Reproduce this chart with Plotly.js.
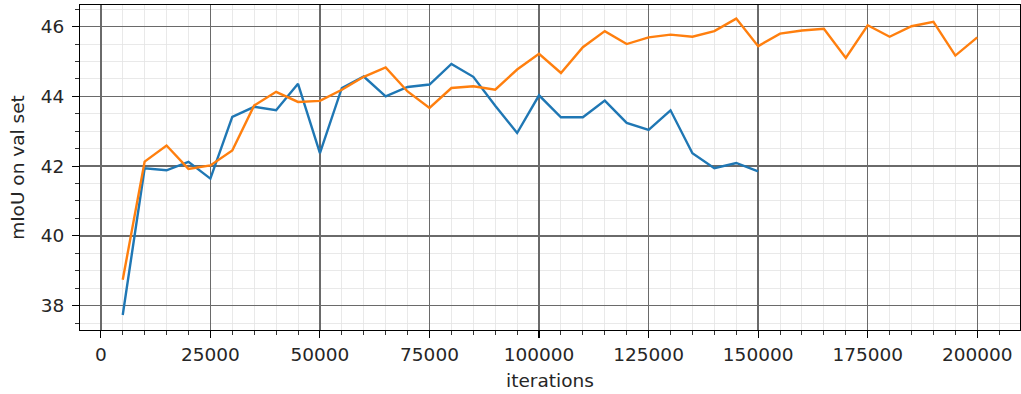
<!DOCTYPE html>
<html>
<head>
<meta charset="utf-8">
<script src="https://cdn.plot.ly/plotly-3.0.1.min.js"></script>
<style>
html,body{margin:0;padding:0;background:#fff;}
#chart{width:1021px;height:394px;}
</style>
</head>
<body>
<div id="chart"></div>
<script>
const itersBlue = [5000,10000,15000,20000,25000,30000,35000,40000,45000,50000,55000,60000,65000,70000,75000,80000,85000,90000,95000,100000,105000,110000,115000,120000,125000,130000,135000,140000,145000,150000];
const miouBlue = [37.73,41.94,41.88,42.12,41.64,43.41,43.70,43.60,44.36,42.37,44.24,44.57,44.00,44.27,44.34,44.93,44.56,43.73,42.95,44.03,43.40,43.40,43.88,43.24,43.04,43.60,42.37,41.94,42.09,41.85];
const itersOrange = [5000,10000,15000,20000,25000,30000,35000,40000,45000,50000,55000,60000,65000,70000,75000,80000,85000,90000,95000,100000,105000,110000,115000,120000,125000,130000,135000,140000,145000,150000,155000,160000,165000,170000,175000,180000,185000,190000,195000,200000];
const miouOrange = [38.74,42.13,42.59,41.92,42.02,42.45,43.74,44.13,43.84,43.87,44.19,44.56,44.83,44.14,43.67,44.24,44.29,44.19,44.77,45.22,44.67,45.41,45.87,45.50,45.69,45.77,45.71,45.87,46.23,45.44,45.80,45.89,45.94,45.10,46.04,45.71,46.01,46.14,45.17,45.69];
const xTitle = 'iterations';
const yTitle = 'mIoU on val set';

const font = {family: 'DejaVu Sans, sans-serif', size: 18.5, color: '#262626'};

const traces = [
  {x: itersBlue, y: miouBlue, type: 'scatter', mode: 'lines', line: {color: '#1f77b4', width: 2.4}, hoverinfo: 'skip'},
  {x: itersOrange, y: miouOrange, type: 'scatter', mode: 'lines', line: {color: '#ff7f0e', width: 2.4}, hoverinfo: 'skip'}
];

const axisCommon = {
  showline: true, linecolor: '#000', linewidth: 1.1, mirror: true,
  ticks: 'outside', ticklen: 7, tickwidth: 1.1, tickcolor: '#000',
  showgrid: true, gridcolor: '#6a6a6a', gridwidth: 1.4,
  zeroline: false, tickfont: font
};

const layout = {
  width: 1021, height: 394,
  margin: {l: 80, r: 1, t: 5, b: 64},
  paper_bgcolor: '#fff', plot_bgcolor: '#fff',
  showlegend: false,
  font: font,
  xaxis: Object.assign({}, axisCommon, {
    range: [-4750, 209750], tick0: 0, dtick: 25000, tickformat: 'd',
    ticklabelstandoff: 1,
    minor: {dtick: 5000, tick0: 0, ticks: 'outside', ticklen: 4, tickcolor: '#000', tickwidth: 0.8, showgrid: true, gridcolor: '#e3e3e3', gridwidth: 0.8},
    title: {text: xTitle, font: font, standoff: 9}
  }),
  yaxis: Object.assign({}, axisCommon, {
    range: [37.3, 46.62], tick0: 38, dtick: 2,
    ticklabelstandoff: 4,
    minor: {dtick: 0.5, tick0: 0, ticks: 'outside', ticklen: 4, tickcolor: '#000', tickwidth: 0.8, showgrid: true, gridcolor: '#e3e3e3', gridwidth: 0.8},
    title: {text: yTitle, font: font, standoff: 11}
  })
};

Plotly.newPlot('chart', traces, layout, {staticPlot: true, displayModeBar: false});
</script>
</body>
</html>
